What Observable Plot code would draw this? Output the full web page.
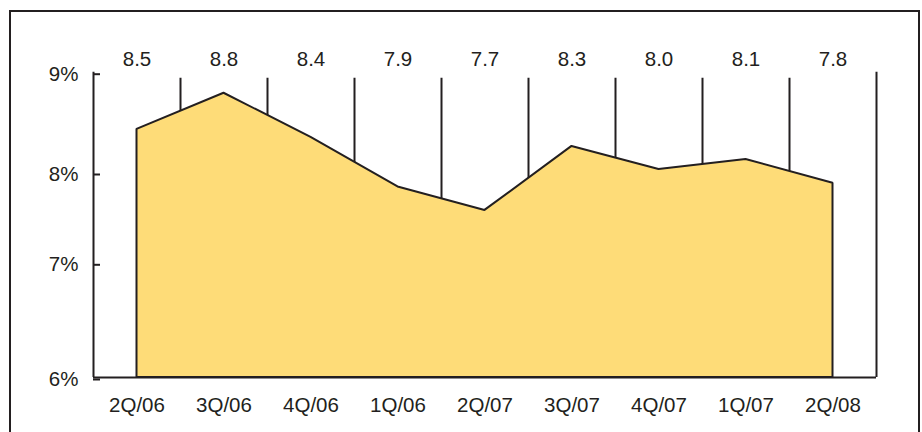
<!DOCTYPE html>
<html>
<head>
<meta charset="utf-8">
<script src="https://cdn.jsdelivr.net/npm/d3@7"></script>
<script src="https://cdn.jsdelivr.net/npm/@observablehq/plot@0.6"></script>
<style>
  html, body { margin: 0; padding: 0; background: #fff; overflow: hidden; }
  #wrap { position: relative; width: 922px; height: 432px; }
  #border {
    position: absolute; left: 9px; top: 10px; width: 911px; height: 422px;
    box-sizing: border-box; border: 2px solid #231f20; border-bottom: none;
    pointer-events: none;
  }
  svg { position: absolute; left: 0; top: 0; }
</style>
</head>
<body>
<div id="wrap"><div id="border"></div></div>
<script>
const categories = ["2Q/06","3Q/06","4Q/06","1Q/06","2Q/07","3Q/07","4Q/07","1Q/07","2Q/08"];
const values = [8.43, 8.79, 8.35, 7.84, 7.58, 8.26, 8.03, 8.13, 7.88];
const topLabels = ["8.5","8.8","8.4","7.9","7.7","8.3","8.0","8.1","7.8"];
const yTicks = [6, 7, 8, 9];
const dividerTop = 8.94;

const data = categories.map((c, i) => ({i, c, v: values[i], label: topLabels[i]}));
const ink = "#231f20";
const fillColor = "#fedc78";
const fs = 20.5;

const chart = Plot.plot({
  width: 922,
  height: 432,
  marginLeft: 93,
  marginRight: 46,
  marginTop: 72,
  marginBottom: 55,
  style: {fontFamily: "'Liberation Sans', Arial, sans-serif", fontSize: fs + "px", color: ink, background: "transparent"},
  x: {type: "linear", domain: [-0.5, categories.length - 0.5], axis: null},
  y: {type: "linear", domain: [6, 7, 8, 9], range: [377, 262.3, 172, 71.7], axis: null},
  marks: [
    Plot.ruleX(d3.range(categories.length - 1).map(i => i + 0.5), {y1: 6, y2: dividerTop, stroke: ink, strokeWidth: 2}),
    Plot.areaY(data, {x: "i", y1: 6, y2: "v", fill: fillColor, stroke: ink, strokeWidth: 2, strokeLinejoin: "miter"}),
    Plot.ruleX([-0.5, categories.length - 0.5], {y1: 6, y2: 9, stroke: ink, strokeWidth: 2}),
    Plot.ruleY([6], {x1: -0.5, x2: categories.length - 0.5, stroke: ink, strokeWidth: 2}),
    Plot.axisY(yTicks, {anchor: "left", tickSize: -7, tickPadding: 22, strokeWidth: 2, stroke: ink, fill: ink, fontSize: fs, tickFormat: d => d + "%", dy: 2, label: null}),
    Plot.axisX(d3.range(categories.length), {anchor: "bottom", tickSize: 0, tickPadding: 28, lineAnchor: "middle", fontSize: fs, tickFormat: i => categories[i], fill: ink, label: null}),
    Plot.text(data, {x: "i", text: "label", frameAnchor: "top", dy: -13, lineAnchor: "middle", fontSize: fs, fill: ink})
  ]
});
document.getElementById("wrap").prepend(chart);
</script>
</body>
</html>
